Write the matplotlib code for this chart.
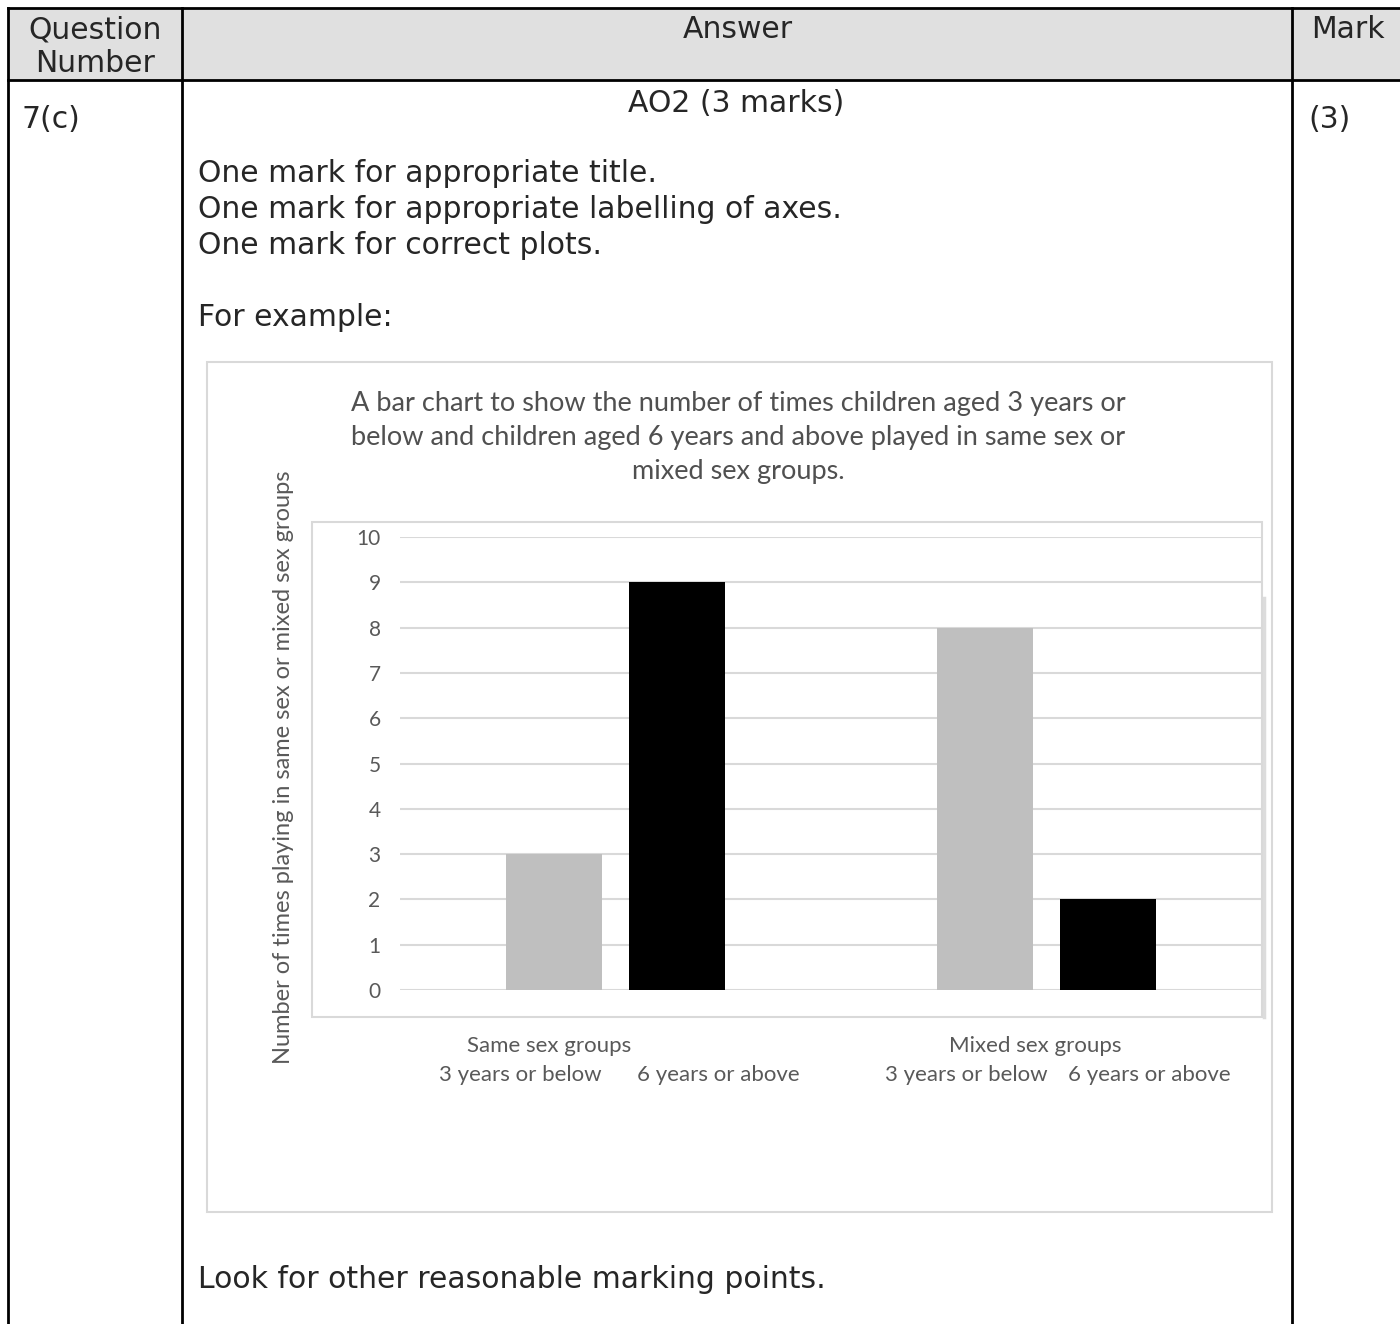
import numpy as np
import matplotlib
matplotlib.use("Agg")
import matplotlib.pyplot as plt
from matplotlib.patches import Rectangle
from matplotlib.transforms import blended_transform_factory

# data
groups = ["Same sex groups", "Mixed sex groups"]
ages = ["3 years or below", "6 years or above"]
under3 = [3, 8]
over6 = [9, 2]
yticks = list(range(0, 11))

title = ("A bar chart to show the number of times children aged 3 years or\n"
         "below and children aged 6 years and above played in same sex or\n"
         "mixed sex groups.")
ylab = "Number of times playing in same sex or mixed sex groups"

W, H = 1400, 1324
fig = plt.figure(figsize=(W / 100, H / 100), dpi=100)

# page / table layer in pixel coords
bg = fig.add_axes([0, 0, 1, 1])
bg.set_xlim(0, W)
bg.set_ylim(H, 0)
bg.axis("off")

tfont = dict(family="DejaVu Sans", fontsize=21.5, color="#262626")
lw_tab = 2.0

bg.add_patch(Rectangle((8, 8), W, 72, facecolor="#e0e0e0", edgecolor="none"))
bg.plot([8, W], [8, 8], color="black", lw=lw_tab)
bg.plot([8, W], [80, 80], color="black", lw=lw_tab)
for x in [8, 182, 1292]:
    bg.plot([x, x], [8, H], color="black", lw=lw_tab)

bg.text(95, 30, "Question", ha="center", va="center", **tfont)
bg.text(95, 64, "Number", ha="center", va="center", **tfont)
bg.text(738, 30, "Answer", ha="center", va="center", **tfont)
bg.text(1348, 30, "Mark", ha="center", va="center", **tfont)
bg.text(22, 120, "7(c)", ha="left", va="center", **tfont)
bg.text(736, 103, "AO2 (3 marks)", ha="center", va="center", **tfont)
bg.text(1308, 120, "(3)", ha="left", va="center", **tfont)
bg.text(198, 174, "One mark for appropriate title.", ha="left", va="center", **tfont)
bg.text(198, 210, "One mark for appropriate labelling of axes.", ha="left", va="center", **tfont)
bg.text(198, 246, "One mark for correct plots.", ha="left", va="center", **tfont)
bg.text(198, 318, "For example:", ha="left", va="center", **tfont)
bg.text(198, 1280, "Look for other reasonable marking points.", ha="left", va="center", **tfont)

# chart frame
grey_line = "#d9d9d9"
txt = "#595959"
bg.add_patch(Rectangle((207, 362), 1065, 850, facecolor="white", edgecolor=grey_line, lw=1.5, zorder=0.5))
bg.text(348, 1010, "0", ha="center", va="center", fontsize=15,
        family="Lato", color="#8a8a8a", zorder=1)
bg.add_patch(Rectangle((330, 995), 40, 21, facecolor="white", edgecolor="none", zorder=1.5))
bg.add_patch(Rectangle((312, 522), 950, 495, facecolor="none", edgecolor=grey_line, lw=1.5, zorder=2))
bg.plot([1264, 1264], [598, 1017], color="#dcdcdc", lw=2.5, zorder=2)

bg.text(738, 437, title, ha="center", va="center", fontsize=19.5, family="Lato",
        color="#505050", linespacing=1.45)
bg.text(283, 767, ylab, ha="center", va="center", rotation=90, fontsize=17,
        family="Lato", color=txt)

# bar chart
ax = fig.add_axes([400 / W, (H - 990) / H, 862 / W, 453 / H], facecolor="none")
x = np.arange(len(groups))
w = 0.222
ax.bar(x - 0.1425, under3, width=w, color="#bfbfbf", zorder=3)
ax.bar(x + 0.1425, over6, width=w, color="black", zorder=3)
ax.set_xlim(-0.5, 1.5)
ax.set_ylim(0, 10)
ax.set_yticks(yticks)
ax.set_yticklabels([str(v) for v in yticks], fontsize=15, family="Lato", color=txt)
ax.tick_params(axis="y", length=0, pad=14)
ax.set_xticks([])
ax.yaxis.grid(True, color=grey_line, lw=1.5)
ax.set_axisbelow(True)
for s in ax.spines.values():
    s.set_visible(False)

tr = blended_transform_factory(ax.transData, ax.transAxes)
grp_off = [-0.155, -0.027]
age_off = [(-0.22, 0.238), (-0.185, 0.239)]
for i, g in enumerate(groups):
    ax.text(x[i] + grp_off[i], -0.124, g, transform=tr, ha="center", va="center",
            fontsize=16, family="Lato", color=txt)
    for j, a in enumerate(ages):
        ax.text(x[i] + age_off[i][j], -0.188, a, transform=tr, ha="center",
                va="center", fontsize=16, family="Lato", color=txt)

fig.savefig("out.png", dpi=100)
